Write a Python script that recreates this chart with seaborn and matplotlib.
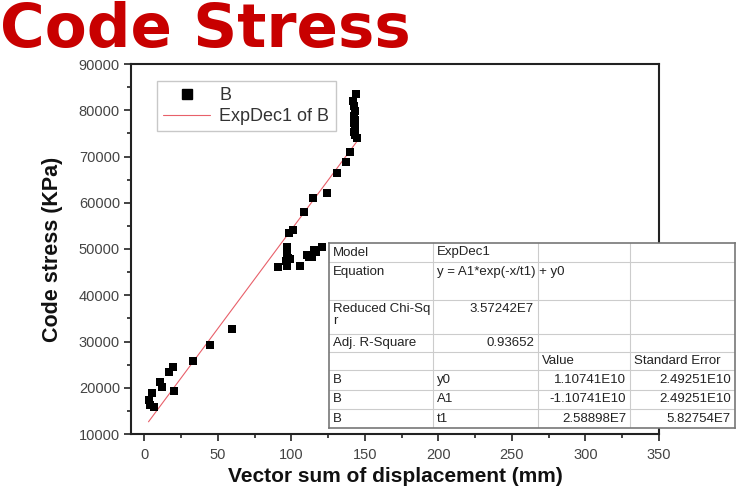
import numpy as np
import pandas as pd
import matplotlib
matplotlib.use("Agg")
import matplotlib.pyplot as plt
from matplotlib.lines import Line2D
import seaborn as sns

# ---------------- data ----------------
disp = [2.9, 4.1, 5.2, 6.3, 10.9, 12.0, 16.5, 19.5, 20.4, 32.9, 44.4, 59.6,
        90.9, 96.5, 97.4, 97.4, 98.0, 99.0, 97.4, 106.0, 110.6, 112.0, 114.0,
        115.1, 117.0, 120.8, 98.1, 101.1,
        108.3, 114.7, 124.2, 131.0, 137.3, 140.0,
        145.0, 143.5, 142.5, 143.5, 142.5, 143.5, 142.5, 143.0, 142.5, 142.0, 144.0]
stress = [17350, 16270, 18800, 15900, 21300, 20230, 23470, 24550, 19360, 25850, 29240, 32700,
          46170, 47500, 50500, 49070, 48000, 47800, 46320, 46320, 48700, 48300, 48340,
          49780, 49400, 50370, 53390, 54100,
          58080, 60960, 62040, 66370, 68880, 71040,
          73930, 74700, 75300, 76400, 77200, 77900, 78800, 79800, 81000, 82000, 83500]

# ExpDec1 fit parameters (y0 carries extra hidden precision)
fit_y0 = 1.10741e10 + 11400
fit_A1 = -1.10741e10
fit_t1 = 2.58898e7

x_ticks = [0, 50, 100, 150, 200, 250, 300, 350]
y_ticks = [10000, 20000, 30000, 40000, 50000, 60000, 70000, 80000, 90000]

table_rows = [
    ["Model", "ExpDec1", "", ""],
    ["Equation", "y = A1*exp(-x/t1) + y0", "", ""],
    ["Reduced Chi-Sq\nr", "3.57242E7", "", ""],
    ["Adj. R-Square", "0.93652", "", ""],
    ["", "", "Value", "Standard Error"],
    ["B", "y0", "1.10741E10", "2.49251E10"],
    ["B", "A1", "-1.10741E10", "2.49251E10"],
    ["B", "t1", "2.58898E7", "5.82754E7"],
]

# ---------------- style ----------------
sns.set_theme(style="white")
plt.rcParams["font.family"] = ["Liberation Sans", "DejaVu Sans"]

W, H = 741, 491
fig = plt.figure(figsize=(W / 100, H / 100), dpi=100)
ax = fig.add_axes([131 / W, 1 - 434 / H, (659 - 131) / W, (434 - 64) / H])

df = pd.DataFrame({"disp": disp, "stress": stress})
sns.scatterplot(data=df, x="disp", y="stress", marker="s", s=40, color="black",
                linewidth=0, ax=ax, zorder=3)

xf = np.linspace(min(disp), max(disp), 200)
yf = fit_y0 + fit_A1 * np.exp(-xf / fit_t1)
sns.lineplot(x=xf, y=yf, color="#e8606a", linewidth=0.8, ax=ax, zorder=2)

ax.set_xlim(-9, 350)
ax.set_ylim(10000, 90000)
ax.set_xticks(x_ticks)
ax.set_yticks(y_ticks)
ax.set_xticks([25, 75, 125, 175, 225, 275, 325], minor=True)
ax.set_yticks([15000, 25000, 35000, 45000, 55000, 65000, 75000, 85000], minor=True)
ax.tick_params(axis="both", which="major", direction="out", length=5, width=1.2,
               color="#222222", labelsize=10.5, labelcolor="#444444")
ax.tick_params(axis="both", which="minor", direction="out", length=3, width=1.2,
               color="#222222")
ax.tick_params(axis="x", pad=5, bottom=True)
ax.tick_params(axis="y", pad=3, left=True)
ax.tick_params(axis="x", which="minor", bottom=True)
ax.tick_params(axis="y", which="minor", left=True)
for sp in ax.spines.values():
    sp.set_linewidth(1.5)
    sp.set_color("#222222")

ax.set_xlabel("Vector sum of displacement (mm)", fontsize=15, fontweight="bold",
              color="#111111", labelpad=4)
ax.set_ylabel("Code stress (KPa)", fontsize=15.5, fontweight="bold",
              color="#111111", labelpad=11)

# legend
handles = [Line2D([], [], marker="s", color="black", linestyle="none", markersize=7),
           Line2D([], [], color="#e8606a", linewidth=0.8)]
leg = fig.legend(handles, ["B", "ExpDec1 of B"], loc="upper left",
                 bbox_to_anchor=(157 / W, 1 - 81 / H), frameon=True, fancybox=False,
                 fontsize=13, labelspacing=0.2, handlelength=2.6, handletextpad=0.5,
                 borderpad=0.35, borderaxespad=0)
leg.get_frame().set_edgecolor("#bbbbbb")
leg.get_frame().set_linewidth(1.0)
for t in leg.get_texts():
    t.set_color("#333333")

# title (baseline placed at ~48 px from the top)
fig.text(0.0, 1.0 - 47 / H, "Code Stress", fontsize=44, fontweight="bold",
         color="#c80000", va="baseline", ha="left", family="DejaVu Sans")

# ---------------- results table ----------------
tx0, ty0, tx1, ty1 = 329, 243, 735, 428
tax = fig.add_axes([tx0 / W, 1 - ty1 / H, (tx1 - tx0) / W, (ty1 - ty0) / H], zorder=5)
tw, th = tx1 - tx0, ty1 - ty0
tax.set_xlim(0, tw)
tax.set_ylim(th, 0)
tax.set_facecolor("white")
for sp in tax.spines.values():
    sp.set_color("#777777")
    sp.set_linewidth(1.2)
tax.set_xticks([])
tax.set_yticks([])

col_edges = [0, 104, 209, 301, tw]
row_edges = [0, 19, 57, 91, 109, 127, 147, 166, th]
for cx in col_edges[1:-1]:
    tax.plot([cx, cx], [0, th], color="#cccccc", linewidth=0.8)
for ry in row_edges[1:-1]:
    tax.plot([0, tw], [ry, ry], color="#cccccc", linewidth=0.8)

fs = 9.5
tcol = "#222222"
for r, row in enumerate(table_rows):
    top = row_edges[r]
    bot = row_edges[r + 1]
    if bot - top > 25:
        yc = top + 9.5
    else:
        yc = (top + bot) / 2
    for c, txt in enumerate(row):
        if not txt:
            continue
        numeric = (r in (2, 3) and c == 1) or (r >= 5 and c >= 2)
        if numeric:
            tax.text(col_edges[c + 1] - 4, yc, txt, fontsize=fs, color=tcol,
                     ha="right", va="center")
        elif "\n" in txt:
            tax.text(col_edges[c] + 4, top + 3, txt, fontsize=fs, color=tcol,
                     ha="left", va="top", linespacing=1.0)
        else:
            tax.text(col_edges[c] + 4, yc, txt, fontsize=fs, color=tcol,
                     ha="left", va="center")

fig.savefig("out.png", dpi=100)
